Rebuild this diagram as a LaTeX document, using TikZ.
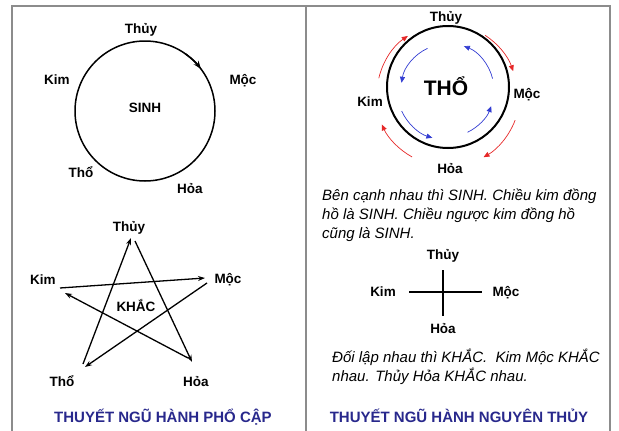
\documentclass[tikz,border=0pt]{standalone}
\usepackage{fontspec}
\setmainfont{Liberation Sans}
\usetikzlibrary{arrows.meta}
\definecolor{frame}{RGB}{140,140,140}
\definecolor{navy}{RGB}{40,40,140}
\definecolor{redarr}{RGB}{230,40,40}
\definecolor{bluearr}{RGB}{50,60,210}
\tikzset{
  lbl/.style={font=\bfseries\fontsize{13.5}{15}\selectfont, anchor=base, inner sep=0pt},
  ttl/.style={font=\bfseries\fontsize{15}{17}\selectfont, text=navy, anchor=base, inner sep=0pt},
  note/.style={font=\itshape\fontsize{15}{17}\selectfont, anchor=base west, inner sep=0pt},
  frameline/.style={draw=frame, line width=1.6pt},
  ring/.style={draw=black, line width=1.5pt},
  starline/.style={draw=black, line width=1.3pt, -{Stealth[length=7pt,width=5pt]}},
  redcurve/.style={draw=redarr, line width=0.7pt, -{Triangle[length=6pt,width=5pt]}},
  bluecurve/.style={draw=bluearr, line width=0.7pt, -{Triangle[length=6pt,width=5pt]}},
}
\begin{document}
\begin{tikzpicture}[x=1pt,y=-1pt]
\useasboundingbox (0,0) rectangle (619,431);
% frame
\coordinate (fTL) at (12,6);
\coordinate (fTM) at (306,6);
\coordinate (fTR) at (610,6);
\coordinate (fBL) at (12,431);
\coordinate (fBM) at (306,431);
\coordinate (fBR) at (610,431);
\draw[frameline] (fBL) -- (fTL) -- (fTR) -- (fBR);
\draw[frameline] (fTM) -- (fBM);

% ---- left top: SINH circle
\coordinate (c1) at (145,111);
\draw[ring] (c1) circle (70);
\draw[line width=1.5pt, -{Stealth[length=8pt,width=6pt]}] (c1) ++(-55:70) arc (-55:-37:70);
\node[lbl] (s1) at (141,33) {Thủy};
\node[lbl] (k1) at (57,84) {Kim};
\node[lbl] (m1) at (243,84) {Mộc};
\node[lbl] (sinh) at (145,112) {SINH};
\node[lbl] (t1) at (81,177) {Thổ};
\node[lbl] (h1) at (190,193) {Hỏa};

% ---- left bottom: KHAC star
\node[lbl] (s2) at (129,231) {Thủy};
\node[lbl] (k2) at (43,284) {Kim};
\node[lbl] (m2) at (228,283) {Mộc};
\node[lbl] (khac) at (136,311) {KHẮC};
\node[lbl] (t2) at (62,386) {Thổ};
\node[lbl] (h2) at (196,386) {Hỏa};
\coordinate (kA) at (60,288);
\coordinate (mA) at (205,278);
\coordinate (mB) at (207,283);
\coordinate (tA) at (85,367);
\coordinate (tB) at (83,364);
\coordinate (sA) at (131,238);
\coordinate (sB) at (135,241);
\coordinate (hA) at (192,362);
\coordinate (hB) at (188,358);
\coordinate (kB) at (65,293);
\draw[starline] (kA) -- (mA);
\draw[starline] (mB) -- (tA);
\draw[starline] (tB) -- (sA);
\draw[starline] (sB) -- (hA);
\draw[starline] (hB) -- (kB);

\node[ttl] (title1) at (163,422) {THUYẾT NGŨ HÀNH PHỔ CẬP};

% ---- right top: THO circle
\coordinate (c2) at (448,87);
\draw[draw=black, line width=2pt] (c2) circle (61);
\node[lbl] (s3) at (446,21) {Thủy};
\node[lbl] (k3) at (370,106) {Kim};
\node[lbl] (m3) at (527,98) {Mộc};
\node[lbl] (h3) at (450,173) {Hỏa};
\node[lbl, font=\bfseries\fontsize{21}{24}\selectfont] (tho) at (446,95) {THỔ};
\coordinate (cr) at (447,94);
\draw[redcurve] (cr) ++(-167:70) arc (-167:-124:70);
\draw[redcurve] (cr) ++(-57:70) arc (-57:-19:70);
\draw[redcurve] (cr) ++(21:73) arc (21:60:73);
\draw[redcurve] (cr) ++(119:72) arc (119:155:72);
\coordinate (cb) at (447,90);
\draw[bluecurve] (cb) ++(-115:46) arc (-115:-171:46);
\draw[bluecurve] (cb) ++(-14:47) arc (-14:-69:47);
\draw[bluecurve] (cb) ++(64:47) arc (64:20:47);
\draw[bluecurve] (cb) ++(155:50) arc (155:107:50);

% ---- right texts
\node[note] (n1) at (322,200) {Bên cạnh nhau thì SINH. Chiều kim đồng};
\node[note] (n2) at (322,219) {hồ là SINH. Chiều ngược kim đồng hồ};
\node[note] (n3) at (322,238) {cũng là SINH.};

% cross
\node[lbl] (s4) at (443,259) {Thủy};
\node[lbl] (k4) at (383,296) {Kim};
\node[lbl] (m4) at (506,296) {Mộc};
\node[lbl] (h4) at (443,333) {Hỏa};
\coordinate (xL) at (409,292);
\coordinate (xR) at (482,292);
\coordinate (xT) at (443,270);
\coordinate (xB) at (443,316);
\draw[line width=1.3pt] (xL) -- (xR);
\draw[line width=1.3pt] (xT) -- (xB);

\node[note] (n4) at (332,362) {Đối lập nhau thì KHẮC.\ \ Kim Mộc KHẮC};
\node[note] (n5) at (332,381) {nhau. Thủy Hỏa KHẮC nhau.};

\node[ttl] (title2) at (459,422) {THUYẾT NGŨ HÀNH NGUYÊN THỦY};
\end{tikzpicture}
\end{document}
